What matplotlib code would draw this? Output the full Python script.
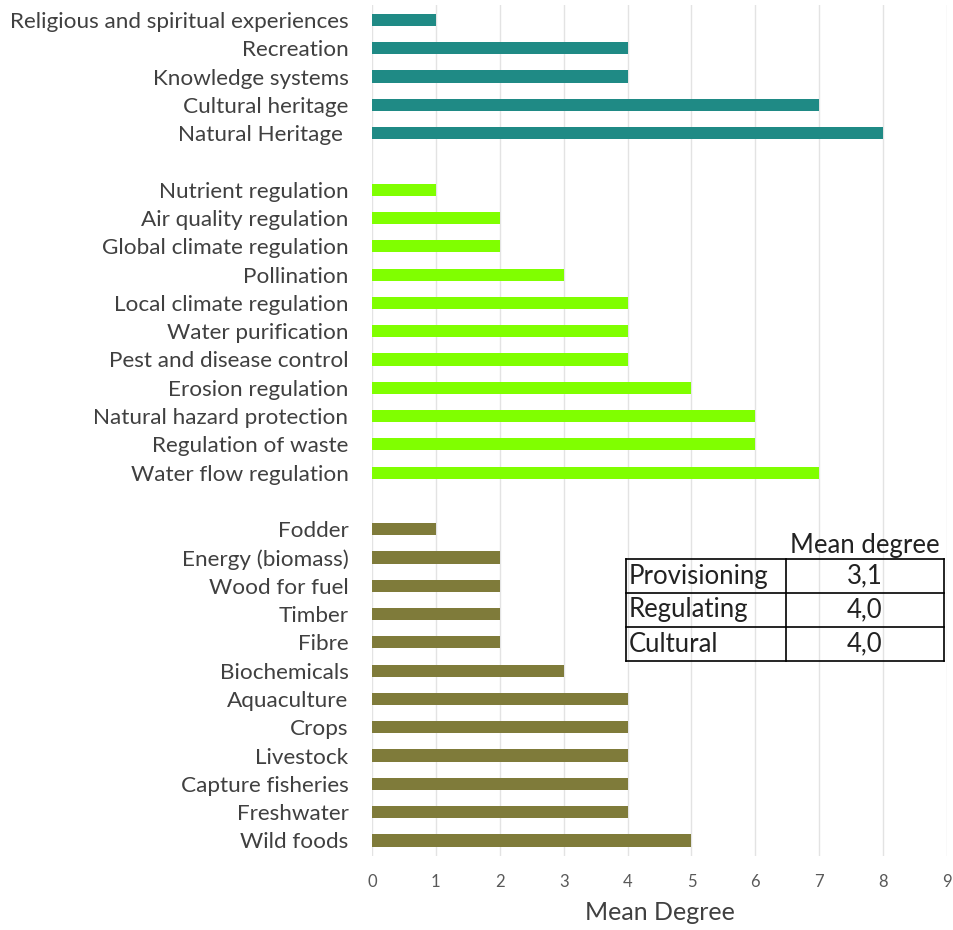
import matplotlib
matplotlib.use("Agg")
import matplotlib.pyplot as plt
from matplotlib.lines import Line2D

plt.rcParams['font.family'] = ['Lato', 'DejaVu Sans']

cultural = ["Religious and spiritual experiences", "Recreation", "Knowledge systems",
            "Cultural heritage", "Natural Heritage "]
cultural_vals = [1, 4, 4, 7, 8]

regulating = ["Nutrient regulation", "Air quality regulation", "Global climate regulation",
              "Pollination", "Local climate regulation", "Water purification",
              "Pest and disease control", "Erosion regulation", "Natural hazard protection",
              "Regulation of waste", "Water flow regulation"]
regulating_vals = [1, 2, 2, 3, 4, 4, 4, 5, 6, 6, 7]

provisioning = ["Fodder", "Energy (biomass)", "Wood for fuel", "Timber", "Fibre",
                "Biochemicals", "Aquaculture", "Crops", "Livestock", "Capture fisheries",
                "Freshwater", "Wild foods"]
provisioning_vals = [1, 2, 2, 2, 2, 3, 4, 4, 4, 4, 4, 5]

table_rows = ["Provisioning", "Regulating", "Cultural"]
table_vals = ["3,1", "4,0", "4,0"]
table_header = "Mean degree"

colors = {"cultural": "#1f8a85", "regulating": "#80ff00", "provisioning": "#7f7b3a"}

fig = plt.figure(figsize=(9.54, 9.30), dpi=100)
W, H = 954, 930
ax_left, ax_right = 372 / W, 947 / W
ax_top, ax_bot = 1 - 5 / H, 1 - 856 / H
ax = fig.add_axes([ax_left, ax_bot, ax_right - ax_left, ax_top - ax_bot])

groups = [(cultural, cultural_vals, colors["cultural"]),
          (regulating, regulating_vals, colors["regulating"]),
          (provisioning, provisioning_vals, colors["provisioning"])]
pos = 0
yt, yl = [], []
for names, vals, col in groups:
    ys = list(range(pos, pos + len(names)))
    ax.barh(ys, vals, height=0.43, color=col, zorder=3)
    yt += ys
    yl += names
    pos += len(names) + 1

ax.set_ylim(29.55, -0.53)
ax.set_xlim(0, 9)
ax.set_xticks(range(10))
ax.set_yticks(yt)
ax.set_yticklabels(yl, fontsize=16.2, color="#404040")
ax.tick_params(axis='y', length=0, pad=17)
ax.tick_params(axis='x', length=0, pad=13, labelsize=12, labelcolor="#595959")
ax.grid(axis='x', color="#e3e3e3", linewidth=1, zorder=0)
for s in ax.spines.values():
    s.set_visible(False)
ax.set_xlabel("Mean Degree", fontsize=18, color="#404040", labelpad=8)

# Inset table (figure pixel coords)
tl, tm, tr = 626, 786, 944
ttop, tbot = 559, 661
rh = (tbot - ttop) / 3
def fx(x): return x / W
def fy(y): return 1 - y / H
lw = 1.2
for y in [ttop + i * rh for i in range(4)]:
    fig.add_artist(Line2D([fx(tl), fx(tr)], [fy(y), fy(y)], color="black", lw=lw))
for x in [tl, tm, tr]:
    fig.add_artist(Line2D([fx(x), fx(x)], [fy(ttop), fy(tbot)], color="black", lw=lw))
fig.text(fx((tm + tr) / 2), fy(545), table_header, fontsize=18.5, ha='center', va='center', color="#222222")
for i, (r, v) in enumerate(zip(table_rows, table_vals)):
    yc = ttop + (i + 0.5) * rh
    fig.text(fx(tl + 3), fy(yc), r, fontsize=18.5, ha='left', va='center', color="#222222")
    fig.text(fx((tm + tr) / 2), fy(yc), v, fontsize=18.5, ha='center', va='center', color="#222222")

fig.savefig("out.png", dpi=100)
